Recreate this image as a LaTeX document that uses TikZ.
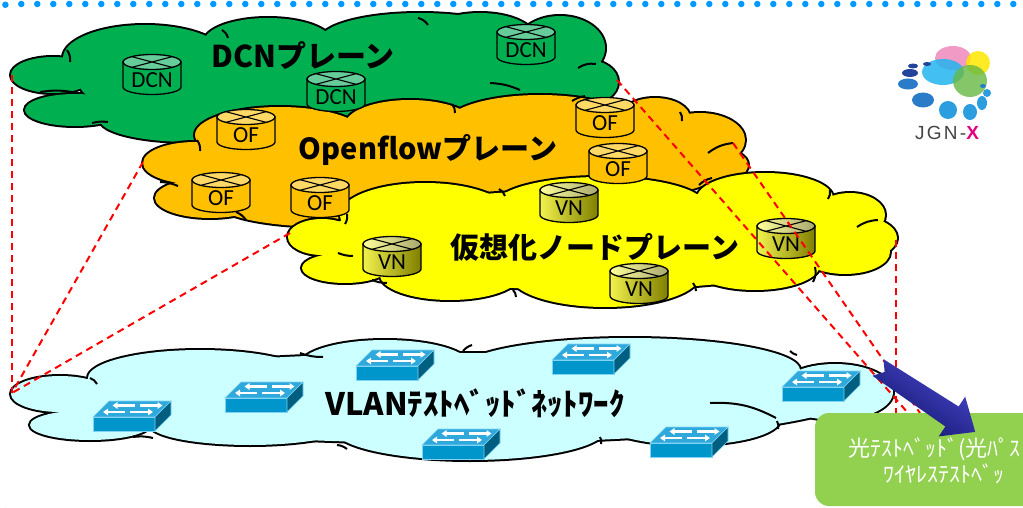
\documentclass[tikz,border=0pt]{standalone}
\usepackage{fontspec}
\setmainfont{Liberation Sans}
\newfontfamily\jpfont{Noto Sans CJK JP}
\newfontfamily\iconfont{Carlito}
\newfontfamily\logofont[LetterSpace=12]{Liberation Sans}
\usetikzlibrary{arrows.meta}

\definecolor{dotblue}{HTML}{0099FF}
\definecolor{dcngreen}{HTML}{00B050}
\definecolor{dcntop}{HTML}{66CC99}
\definecolor{ofgold}{HTML}{FFC000}
\definecolor{oftop}{HTML}{FFD966}
\definecolor{vnyellow}{HTML}{FFFF00}
\definecolor{vnbodyL}{HTML}{F2F24D}
\definecolor{vnbodyR}{HTML}{7F7F00}
\definecolor{vntopL}{HTML}{FFFF99}
\definecolor{vntopR}{HTML}{A8A870}
\definecolor{vlancyan}{HTML}{CCFFFF}
\definecolor{swtop}{HTML}{2FA8DC}
\definecolor{swfront}{HTML}{0096CC}
\definecolor{swside}{HTML}{005F80}
\definecolor{swedge}{HTML}{7FD4F5}
\definecolor{linkred}{HTML}{FF0000}
\definecolor{boxgreen}{HTML}{92D050}
\definecolor{arrowhi}{HTML}{4A4AD0}
\definecolor{arrowlo}{HTML}{12126A}
\definecolor{logopink}{HTML}{EE88BB}
\definecolor{logoyellow}{HTML}{FFE600}
\definecolor{logocyan}{HTML}{22B4EE}
\definecolor{logogreen}{HTML}{66B844}
\definecolor{logoblueA}{HTML}{24449C}
\definecolor{logoblueB}{HTML}{2A7CC8}
\definecolor{logoblueC}{HTML}{2C9EE0}
\definecolor{logomag}{HTML}{E4007F}
\definecolor{logogray}{HTML}{444444}

\tikzset{
  dotline/.style={dotblue, line width=6.5pt, line cap=round, dash pattern=on 0pt off 16pt},
  planelabel/.style={font={\jpfont\bfseries\fontsize{29}{32}\selectfont}, inner sep=0pt},
  routerlabel/.style={font={\iconfont\fontsize{23}{24}\selectfont}, inner sep=0pt},
  routeredge/.style={draw=black, line width=1.3pt},
  planelink/.style={linkred, line width=2pt, dash pattern=on 7pt off 5pt},
  swarrow/.style={white, line width=2.2pt, -{Triangle[length=5pt,width=6.5pt]}},
  swface/.style={draw=swedge, line width=0.6pt},
  crease/.style={line width=2pt},
  boxtext/.style={font={\jpfont\fontsize{22}{24}\selectfont}, text=white, inner sep=0pt, anchor=base west},
  logotext/.style={font={\logofont\fontsize{19}{20}\selectfont}, text=logogray, inner sep=0pt},
}

% cloud = union of ellipses: thick outline pass, then fill pass
\newcommand\cloudshape[2]{%
  \foreach \cx/\cy/\rx/\ry in {#2}
    \draw[line width=4pt] (\cx,\cy) ellipse[x radius=\rx pt, y radius=\ry pt];
  \foreach \cx/\cy/\rx/\ry in {#2}
    \fill[#1] (\cx,\cy) ellipse[x radius=\rx pt, y radius=\ry pt];
}
% short inner folds of a cloud
\newcommand\creases[1]{%
  \foreach \ax/\ay/\bx/\by/\bend in {#1}
    \draw[crease] (\ax,\ay) to[bend left=\bend] (\bx,\by);
}

% router cylinder: name, x, y (centre of top face), body fill, top fill, label
\newcommand\router[6]{%
  \path[routeredge, #4] (#2-29,#3) -- (#2-29,#3+25)
     arc[start angle=180, end angle=360, x radius=29pt, y radius=7.5pt]
     -- (#2+29,#3) -- cycle;
  \path[routeredge, #5] (#2,#3) ellipse[x radius=29pt, y radius=7.5pt];
  \draw[line width=1.1pt] (#2-20,#3-5.3) -- (#2+20,#3+5.3)
                          (#2-20,#3+5.3) -- (#2+20,#3-5.3);
  \node[routerlabel] (#1) at (#2,#3+18) {#6};
}

% workgroup switch: name, x, y (front top-left corner)
\newcommand\switchicon[3]{%
  \path[swface, fill=swtop] (#2,#3) -- (#2+16,#3-16) -- (#2+78,#3-16) -- (#2+62,#3) -- cycle;
  \path[swface, fill=swfront] (#2,#3) rectangle (#2+62,#3+14);
  \path[swface, fill=swside] (#2+62,#3) -- (#2+78,#3-16) -- (#2+78,#3-2) -- (#2+62,#3+14) -- cycle;
  \draw[swarrow] (#2+11.5+30,#3-11.5) -- (#2+11.5+8,#3-11.5);
  \draw[swarrow] (#2+11.5+35,#3-11.5) -- (#2+11.5+58,#3-11.5);
  \draw[swarrow] (#2+5+27,#3-5) -- (#2+5+5,#3-5);
  \draw[swarrow] (#2+5+32,#3-5) -- (#2+5+55,#3-5);
  \coordinate (#1) at (#2+39,#3);
}

\begin{document}
\begin{tikzpicture}[x=1pt,y=-1pt]
\useasboundingbox (0,0) rectangle (1023,508);

% dotted frame
\draw[dotline, rounded corners=16pt] (-6,4) rectangle (1030,512);

% planes
\cloudshape{dcngreen}{53/75/42/18, 75/110/50/16, 145/58/82/33, 268/42/64/24,
  420/40/100/27, 480/38/55/25, 560/48/45/32, 588/82/30/22, 190/120/90/22, 330/85/250/45}
\creases{67/50/70/62/20, 40/92/77/93/10, 92/123/108/122/10, 222/30/228/38/20,
  418/18/428/25/20, 578/68/596/64/20, 490/83/520/90/10}
\cloudshape{ofgold}{195/163/52/21, 280/135/85/28, 410/125/65/25, 540/125/95/30,
  655/118/35/20, 700/140/45/27, 720/165/28/16, 210/198/55/20, 330/205/110/22, 450/165/280/48}
\creases{197/140/200/151/20, 160/182/178/186/10, 452/104/455/113/20, 680/112/682/121/20,
  708/153/733/143/15, 236/212/246/220/15, 572/101/585/96/10}
\cloudshape{vnyellow}{322/237/34/18, 345/268/43/15, 425/215/85/32, 600/205/105/28,
  765/198/68/25, 850/215/35/22, 855/238/42/22, 845/252/45/22, 755/265/65/25,
  605/275/95/32, 450/275/70/25, 590/240/270/50}
\creases{347/214/345/224/20, 353/256/338/253/10, 387/283/372/280/10, 499/189/505/196/20,
  699/185/712/178/15, 830/190/828/199/20, 857/227/878/220/15, 815/267/813/282/20,
  693/283/696/291/20, 513/290/516/297/20}
\cloudshape{vlancyan}{60/394/49/18, 90/425/60/15, 200/378/112/28, 385/365/85/25,
  630/370/170/32, 835/392/58/28, 690/420/90/25, 470/430/135/30, 250/425/100/20, 450/398/400/45}
\creases{90/378/97/384/20, 323/357/300/353/10, 463/351/472/345/15, 797/355/790/351/15,
  777/421/778/429/20, 710/403/776/418/15, 600/437/601/444/20, 337/445/347/449/15,
  133/437/153/438/10}

% VLAN switches
\switchicon{sw1}{93}{417}
\switchicon{sw2}{225}{398}
\switchicon{sw3}{356}{366}
\switchicon{sw4}{422}{445}
\switchicon{sw5}{552}{360}
\switchicon{sw6}{650}{443}
\switchicon{sw7}{782}{387}

% DCN routers
\router{dcn1}{152}{62}{fill=dcngreen}{fill=dcntop}{DCN}
\router{dcn2}{336}{79}{fill=dcngreen}{fill=dcntop}{DCN}
\router{dcn3}{526}{32}{fill=dcngreen}{fill=dcntop}{DCN}
% OpenFlow routers
\router{of1}{246}{117}{fill=ofgold}{fill=oftop}{OF}
\router{of2}{221}{180}{fill=ofgold}{fill=oftop}{OF}
\router{of3}{320}{185}{fill=ofgold}{fill=oftop}{OF}
\router{of4}{605}{105}{fill=ofgold}{fill=oftop}{OF}
\router{of5}{618}{151}{fill=ofgold}{fill=oftop}{OF}
% virtual-node routers
\router{vn1}{569}{190}{left color=vnbodyL, right color=vnbodyR}{left color=vntopL, right color=vntopR}{VN}
\router{vn2}{786}{226}{left color=vnbodyL, right color=vnbodyR}{left color=vntopL, right color=vntopR}{VN}
\router{vn3}{639}{271}{left color=vnbodyL, right color=vnbodyR}{left color=vntopL, right color=vntopR}{VN}
\router{vn4}{392}{244}{left color=vnbodyL, right color=vnbodyR}{left color=vntopL, right color=vntopR}{VN}

% plane titles
\node[planelabel, font={\jpfont\bfseries\fontsize{30}{32}\selectfont}] (dcnlabel) at (303,56) {DCNプレーン};
\node[planelabel] (oflabel) at (428,150) {Openflowプレーン};
\node[planelabel] (vnlabel) at (595,247) {仮想化ノードプレーン};
\node[planelabel, font={\jpfont\bfseries\fontsize{31}{33}\selectfont}] (vlanlabel) at (475,403) {VLANﾃｽﾄﾍﾞｯﾄﾞﾈｯﾄﾜｰｸ};

% plane corner points
\coordinate (dcnL) at (12,75);
\coordinate (ofL) at (143,162);
\coordinate (vnL) at (290,233);
\coordinate (vlanL) at (12,393);
\coordinate (dcnR) at (617,80);
\coordinate (ofR) at (733,143);
\coordinate (vnR) at (896,240);
\coordinate (endA) at (908,413);
\coordinate (endB) at (920,413);
\coordinate (endC) at (896,413);

% projection lines between planes
\draw[planelink] (dcnL) -- (vlanL);
\draw[planelink] (ofL) -- (vlanL);
\draw[planelink] (vnL) -- (vlanL);
\draw[planelink] (dcnR) -- (endA);
\draw[planelink] (ofR) -- (endB);
\draw[planelink] (vnR) -- (endC);

% other testbeds
\path[fill=boxgreen, rounded corners=14pt] (815,413) rectangle (1060,506);
\node[boxtext] (box1) at (848,456) {光ﾃｽﾄﾍﾞｯﾄﾞ(光ﾊﾟｽ};
\node[boxtext] (box2) at (883,482) {ﾜｲﾔﾚｽﾃｽﾄﾍﾞｯ};

% arrow towards the other testbeds
\path[top color=arrowhi, bottom color=arrowlo, shading angle=-33]
  (883.5,359.2) -- (958.6,406.5) -- (965.2,396.6) -- (975.2,431.9)
  -- (938.8,436.4) -- (945.4,426.5) -- (872.5,375.8) -- (884.6,371.9) -- cycle;

% JGN-X logo
\fill[logopink, opacity=.85] (953,58) ellipse[x radius=18pt, y radius=12pt];
\fill[logoyellow, opacity=.85] (978,63) ellipse[x radius=12pt, y radius=12pt];
\fill[logocyan, opacity=.85] (943,72) ellipse[x radius=21pt, y radius=13pt];
\fill[logogreen, opacity=.8] (970,81) ellipse[x radius=17pt, y radius=16pt];
\fill[logoblueA] (913,66) ellipse[x radius=5pt, y radius=2.5pt];
\fill[logoblueA] (927,64) ellipse[x radius=4pt, y radius=2pt];
\fill[logoblueA] (910,73) ellipse[x radius=8pt, y radius=4pt];
\fill[logoblueB] (908,84) ellipse[x radius=10pt, y radius=5.5pt];
\fill[logoblueB] (923,100) ellipse[x radius=11pt, y radius=7.5pt];
\fill[logoblueC] (948,110) ellipse[x radius=9pt, y radius=9pt];
\fill[logoblueC] (970,112) ellipse[x radius=7pt, y radius=8pt];
\fill[logoblueC] (982,103) ellipse[x radius=5pt, y radius=7pt];
\fill[logoblueC] (987,93) ellipse[x radius=4pt, y radius=4pt];
\fill[logoblueB] (983,86) ellipse[x radius=3pt, y radius=2pt];
\node[logotext] (logo) at (947,133) {JGN-\textcolor{logomag}{\bfseries X}};

\end{tikzpicture}
\end{document}
